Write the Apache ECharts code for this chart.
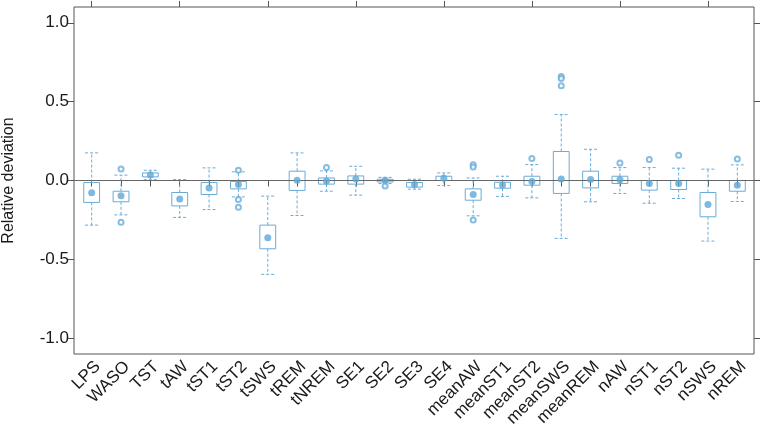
<!DOCTYPE html>
<html><head><meta charset="utf-8">
<script src="https://cdn.jsdelivr.net/npm/echarts@6/dist/echarts.min.js"></script>
<style>html,body{margin:0;padding:0;background:#fff}#c{width:761px;height:433px}</style>
</head><body><div id="c"></div>
<script>
const categories = ['LPS','WASO','TST','tAW','tST1','tST2','tSWS','tREM','tNREM','SE1','SE2','SE3','SE4','meanAW','meanST1','meanST2','meanSWS','meanREM','nAW','nST1','nST2','nSWS','nREM'];
const whiskerLow  = [-0.283,-0.218,0.005,-0.234,-0.184,-0.104,-0.595,-0.222,-0.068,-0.093,-0.019,-0.055,-0.032,-0.224,-0.101,-0.110,-0.367,-0.135,-0.082,-0.144,-0.114,-0.384,-0.133];
const q1          = [-0.139,-0.135,0.023,-0.161,-0.089,-0.053,-0.433,-0.063,-0.023,-0.023,-0.009,-0.042,0.000,-0.125,-0.049,-0.030,-0.082,-0.047,-0.019,-0.061,-0.057,-0.230,-0.068];
const median      = [-0.078,-0.097,0.035,-0.118,-0.047,-0.025,-0.363,0.002,-0.003,0.010,0.002,-0.025,0.015,-0.089,-0.028,-0.006,0.010,0.006,0.004,-0.019,-0.019,-0.152,-0.030];
const q3          = [-0.013,-0.068,0.048,-0.076,-0.013,-0.006,-0.283,0.059,0.016,0.029,0.008,-0.013,0.027,-0.053,-0.011,0.027,0.184,0.059,0.027,0.000,0.000,-0.076,0.000];
const whiskerHigh = [0.175,0.034,0.065,0.006,0.080,0.055,-0.099,0.175,0.061,0.090,0.020,0.008,0.048,0.016,0.027,0.101,0.418,0.198,0.082,0.082,0.078,0.072,0.099];
const outliers = [[1,0.073],[1,-0.264],[5,0.065],[5,-0.120],[5,-0.169],[8,0.082],[10,-0.035],[13,0.100],[13,0.085],[13,-0.251],[15,0.139],[16,0.660],[16,0.646],[16,0.601],[18,0.111],[19,0.133],[20,0.160],[22,0.137]];
const yTicks = [-1.0,-0.5,0.0,0.5,1.0];
const zeroLine = [[0,0],[1,0]];

const lineColor = '#68acd8';
const dotColor = '#5ea7d8';
const font = 'Liberation Sans, Arial, sans-serif';

const boxData = categories.map((c,i)=>[i, whiskerLow[i], q1[i], median[i], q3[i], whiskerHigh[i]]);
const medianData = categories.map((c,i)=>[i, median[i]]);

function renderBox(params, api){
  const x = api.value(0);
  const lo = api.coord([x, api.value(1)]);
  const b1 = api.coord([x, api.value(2)]);
  const b3 = api.coord([x, api.value(4)]);
  const hi = api.coord([x, api.value(5)]);
  const band = api.size([1,0])[0];
  const bw = band*0.54, cw = band*0.45;
  const cx = lo[0];
  const dash = {stroke: lineColor, lineWidth: 1, lineDash: [3,2], fill: null};
  return {type:'group', children:[
    {type:'line', shape:{x1:cx,y1:b3[1],x2:cx,y2:hi[1]}, style:dash},
    {type:'line', shape:{x1:cx,y1:b1[1],x2:cx,y2:lo[1]}, style:dash},
    {type:'line', shape:{x1:cx-cw/2,y1:hi[1],x2:cx+cw/2,y2:hi[1]}, style:dash},
    {type:'line', shape:{x1:cx-cw/2,y1:lo[1],x2:cx+cw/2,y2:lo[1]}, style:dash},
    {type:'rect', shape:{x:cx-bw/2,y:b3[1],width:bw,height:b1[1]-b3[1]}, style:{stroke:lineColor, fill:'transparent', lineWidth:1}}
  ]};
}

const chart = echarts.init(document.getElementById('c'), null, {renderer:'canvas'});
chart.setOption({
  animation: false,
  backgroundColor: '#fff',
  grid: [
    {left:74, right:7, top:7, bottom:79, show:true, borderColor:'#555', borderWidth:1, backgroundColor:'transparent', outerBoundsMode:'none', containLabel:false},
    {left:77, right:9, top:7, bottom:79, outerBoundsMode:'none', containLabel:false}
  ],
  xAxis: [
    {gridIndex:0, type:'value', min:0, max:1, show:false},
    {gridIndex:1, type:'category', data:categories, position:'bottom', boundaryGap:true,
      axisLine:{show:false}, axisTick:{show:true, alignWithLabel:true, length:6, lineStyle:{color:'#555'}},
      axisLabel:{rotate:45, interval:0, fontSize:17, color:'#1a1a1a', fontFamily:font, margin:4, verticalAlign:'top'}, splitLine:{show:false}},
    {gridIndex:1, type:'category', data:categories, position:'top', boundaryGap:true,
      axisLine:{show:false}, axisTick:{show:true, alignWithLabel:true, length:6, lineStyle:{color:'#555'}},
      axisLabel:{show:false}, splitLine:{show:false}}
  ],
  yAxis: [
    {gridIndex:0, type:'value', min:-1.1, max:1.1, position:'left',
      axisLine:{show:false}, axisTick:{show:true, customValues:yTicks, length:6, lineStyle:{color:'#555'}},
      axisLabel:{show:true, customValues:yTicks, formatter:v=>v.toFixed(1), fontSize:17, color:'#1a1a1a', fontFamily:font, margin:5},
      splitLine:{show:false},
      name:'Relative deviation', nameLocation:'middle', nameGap:57,
      nameTextStyle:{fontSize:16, color:'#1a1a1a', fontFamily:font}},
    {gridIndex:0, type:'value', min:-1.1, max:1.1, position:'right',
      axisLine:{show:false}, axisTick:{show:true, customValues:yTicks, length:6, lineStyle:{color:'#555'}},
      axisLabel:{show:false}, splitLine:{show:false}},
    {gridIndex:1, type:'value', min:-1.1, max:1.1, show:false}
  ],
  series: [
    {type:'line', xAxisIndex:0, yAxisIndex:0, data:zeroLine, symbol:'none', silent:true,
      lineStyle:{color:'#666', width:1}},
    {type:'custom', xAxisIndex:1, yAxisIndex:2, data:boxData, renderItem:renderBox,
      encode:{x:0, y:[1,2,3,4,5]}, silent:true, z:3},
    {type:'scatter', xAxisIndex:1, yAxisIndex:2, data:medianData, symbol:'circle', symbolSize:7,
      itemStyle:{color:dotColor}, silent:true, z:4},
    {type:'scatter', xAxisIndex:1, yAxisIndex:2, data:outliers, symbol:'emptyCircle', symbolSize:5,
      itemStyle:{color:lineColor, borderColor:lineColor, borderWidth:0.8}, silent:true, z:4}
  ]
});
</script></body></html>
